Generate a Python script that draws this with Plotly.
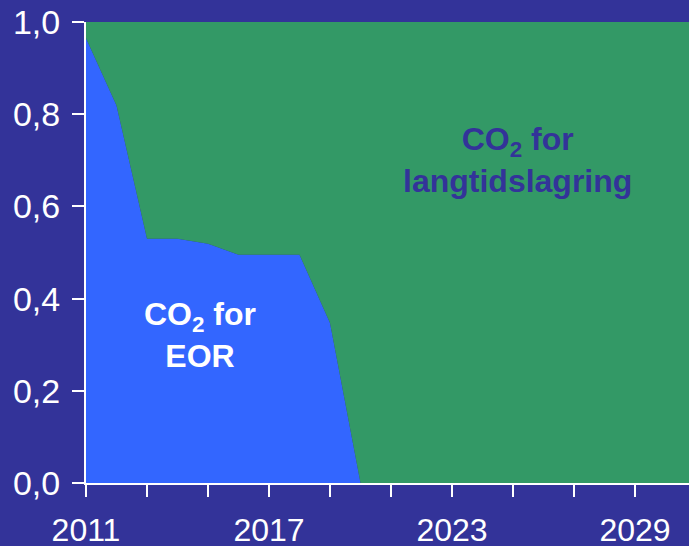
import plotly.graph_objects as go

years = list(range(2011, 2032))
eor = [0.965, 0.819, 0.530, 0.530, 0.519, 0.495, 0.495, 0.495, 0.347, 0.0,
       0.0, 0.0, 0.0, 0.0, 0.0, 0.0, 0.0, 0.0, 0.0, 0.0, 0.0]
storage = [0.035, 0.181, 0.470, 0.470, 0.481, 0.505, 0.505, 0.505, 0.653, 1.0,
           1.0, 1.0, 1.0, 1.0, 1.0, 1.0, 1.0, 1.0, 1.0, 1.0, 1.0]

BG = "#333399"
BLUE = "#3366FF"
GREEN = "#339966"
FONT = "Liberation Sans, Arial, sans-serif"

fig = go.Figure()
fig.add_trace(go.Scatter(x=years, y=eor, stackgroup="a", mode="lines",
                         line=dict(width=0, color=BLUE), fillcolor=BLUE,
                         hoverinfo="skip"))
fig.add_trace(go.Scatter(x=years, y=storage, stackgroup="a", mode="lines",
                         line=dict(width=0, color=GREEN), fillcolor=GREEN,
                         hoverinfo="skip"))

fig.add_annotation(x=2014.74, y=0.32, xref="x", yref="y",
                   text="<b>CO<sub>2</sub> for<br>EOR</b>", showarrow=False,
                   font=dict(family=FONT, size=32, color="white"))
fig.add_annotation(x=2025.16, y=0.70, xref="x", yref="y",
                   text="<b>CO<sub>2</sub> for<br>langtidslagring</b>", showarrow=False,
                   font=dict(family=FONT, size=32, color=BG))

fig.update_layout(
    width=689, height=546,
    margin=dict(l=86, r=0, t=22, b=63),
    paper_bgcolor=BG, plot_bgcolor=BG,
    showlegend=False,
    separators=", ",
    font=dict(family=FONT, color="white", size=32),
    xaxis=dict(range=[2011, 2030.77], tick0=2011, dtick=6, ticks="outside",
               ticklen=12, tickwidth=2, tickcolor="white", showgrid=False,
               zeroline=False, showline=True, linecolor="white", linewidth=2,
               automargin=False, ticklabelstandoff=6,
               tickfont=dict(size=32, color="white"),
               minor=dict(tick0=2011, dtick=2, ticks="outside", ticklen=12,
                          tickwidth=2, tickcolor="white", showgrid=False)),
    yaxis=dict(range=[0, 1], tick0=0, dtick=0.2, tickformat=".1f",
               ticks="outside", ticklen=12, tickwidth=2, tickcolor="white",
               showgrid=False, zeroline=False, showline=True, linecolor="white",
               linewidth=2, automargin=False, ticklabelstandoff=5,
               tickfont=dict(size=34, color="white")),
)

fig.write_html("out.html", config={"displayModeBar": False},
               post_script="document.body.style.margin='0';document.body.style.background='#333399';")
